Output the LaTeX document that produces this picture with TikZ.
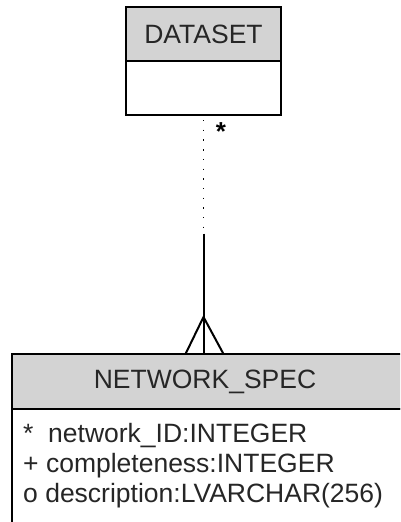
\documentclass[tikz,border=0pt]{standalone}
\usepackage{fontspec}
\setmainfont{Liberation Sans}
\usetikzlibrary{calc}
\definecolor{hdrgray}{HTML}{D3D3D3}
\begin{document}
\begin{tikzpicture}[x=1pt,y=-1pt,
  hdr/.style={draw=black,line width=2.2pt,fill=hdrgray,inner sep=0pt,outer sep=0pt,font=\fontsize{26.5}{30}\selectfont,text=black!85},
  bodybox/.style={draw=black,line width=2.2pt,fill=white,inner sep=0pt,outer sep=0pt},
  attr/.style={anchor=base west,inner sep=0pt,font=\fontsize{26.5}{30}\selectfont,text=black!85},
  rel/.style={line width=2pt},
  reldot/.style={line width=1.4pt,dash pattern=on 1.4pt off 8.3pt}]
\useasboundingbox (0,0) rectangle (400,522);
\begin{scope}
\clip (0,0) rectangle (400,522);
% DATASET
\node[hdr,minimum width=155,minimum height=54] (dsh) at (203.5,34) {DATASET};
\node[bodybox,minimum width=155,minimum height=54] (dsb) at (203.5,88) {};
% NETWORK_SPEC
\node[hdr,minimum width=410,minimum height=55] (nsh) at (217,381.5) {};
\node[font=\fontsize{26.5}{30}\selectfont,text=black!85] (nst) at (205,381.5) {NETWORK\_SPEC};
\node[bodybox,minimum width=410,minimum height=140] (nsb) at (217,479) {};
\node[attr] (a1) at (23,442) {*};
\node[attr] (a1b) at (48,442) {network\_ID:INTEGER};
\node[attr] (a2) at (23,472) {+ completeness:INTEGER};
\node[attr] (a3) at (23,502) {o description:LVARCHAR(256)};
% connector
\coordinate (foot) at (dsb.south |- nsh.north);
\coordinate (mid) at ($(dsb.south)!0.5!(foot)+(0,-4)$);
\coordinate (apex) at ($(foot)+(0,-37)$);
\draw[reldot] ($(dsb.south)+(0,5)$) -- (mid);
\draw[rel] ($(mid)+(0,3)$) -- (foot);
\draw[rel] ($(foot)+(-18,0)$) -- (apex) -- ($(foot)+(20,0)$);
\node[font=\bfseries\fontsize{26}{26}\selectfont,inner sep=0pt] (star) at (221,132) {*};
\end{scope}
\end{tikzpicture}
\end{document}
